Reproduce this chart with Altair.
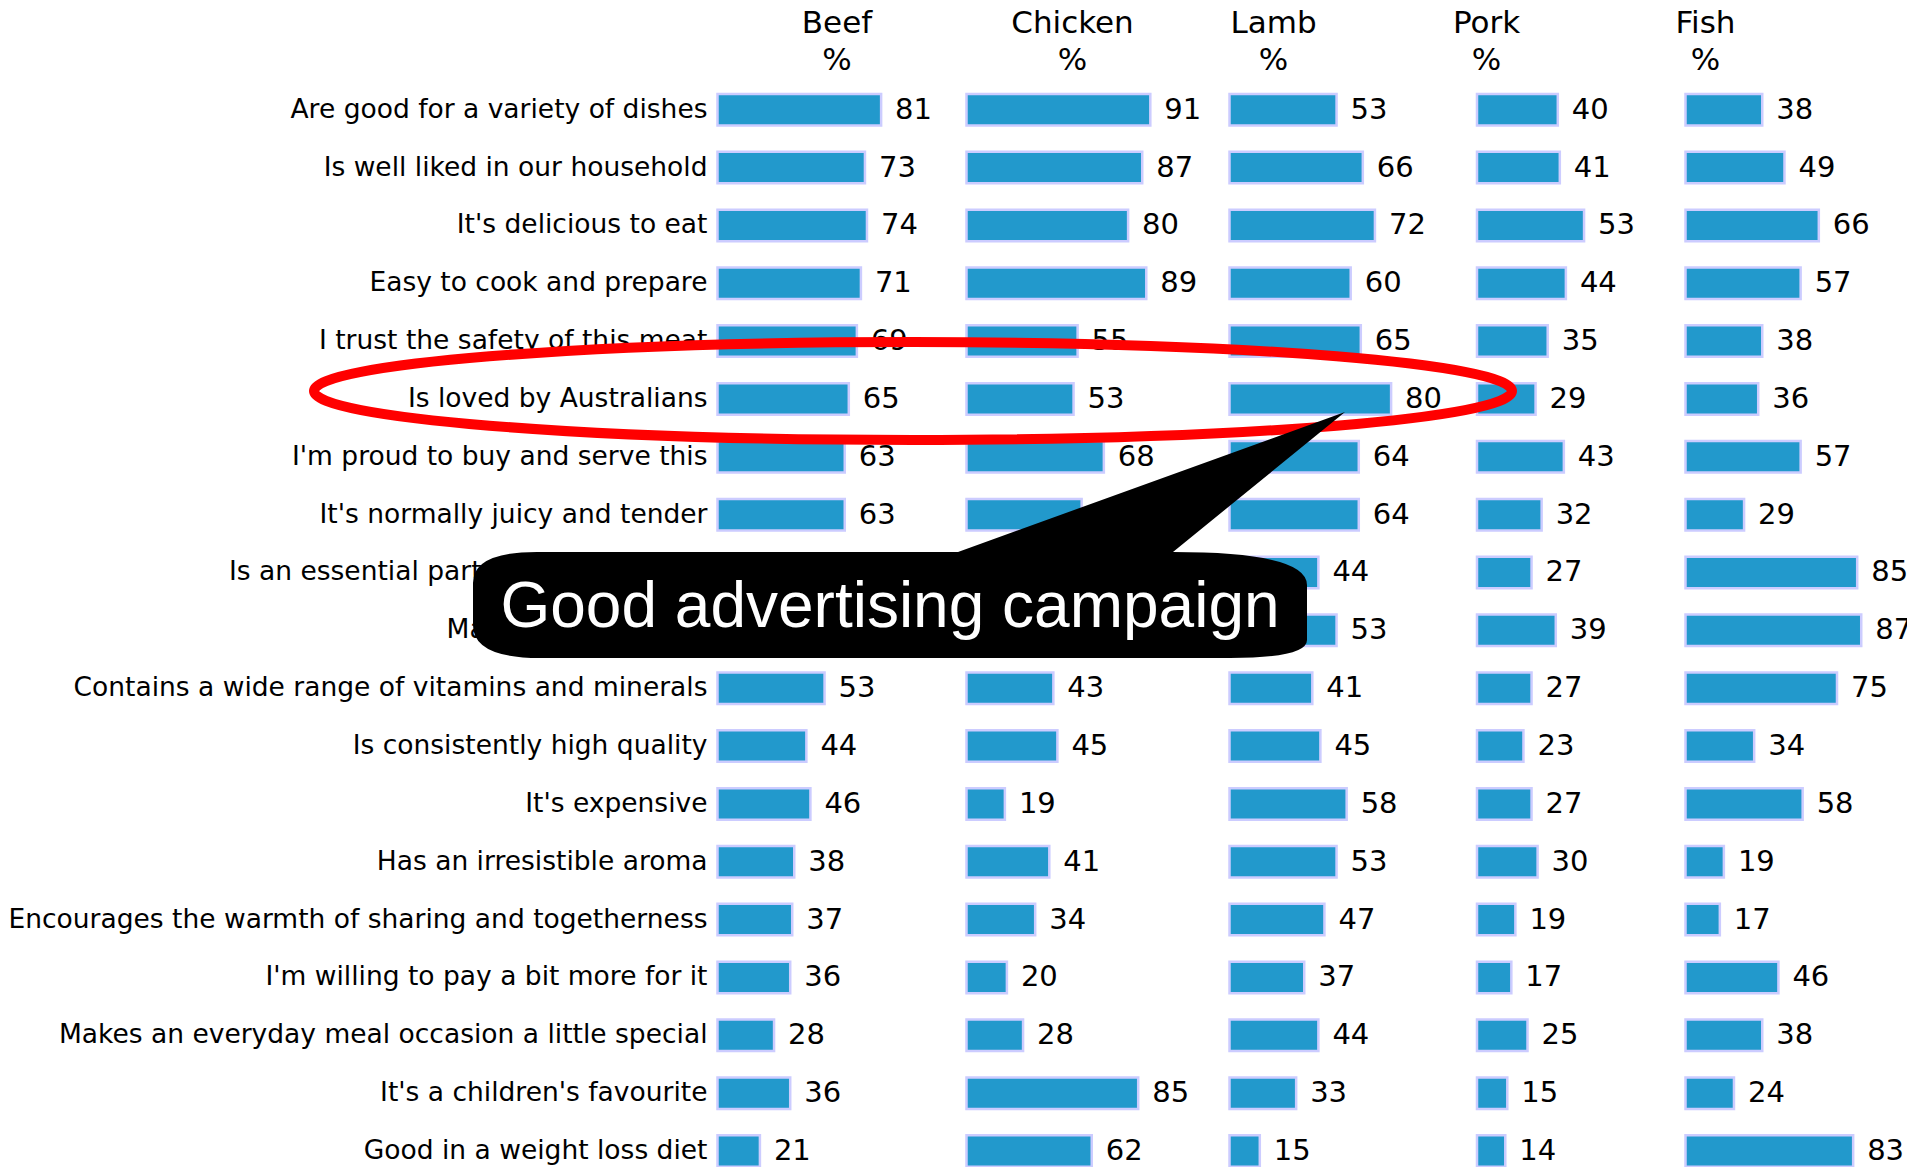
import altair as alt
import pandas as pd

# ---------------- data ----------------
meats = ["Beef", "Chicken", "Lamb", "Pork", "Fish"]
attributes = [
    "Are good for a variety of dishes",
    "Is well liked in our household",
    "It's delicious to eat",
    "Easy to cook and prepare",
    "I trust the safety of this meat",
    "Is loved by Australians",
    "I'm proud to buy and serve this",
    "It's normally juicy and tender",
    "Is an essential part of a healthy diet",
    "Makes a great meal",
    "Contains a wide range of vitamins and minerals",
    "Is consistently high quality",
    "It's expensive",
    "Has an irresistible aroma",
    "Encourages the warmth of sharing and togetherness",
    "I'm willing to pay a bit more for it",
    "Makes an everyday meal occasion a little special",
    "It's a children's favourite",
    "Good in a weight loss diet",
]
beef = [81, 73, 74, 71, 69, 65, 63, 63, 60, 57, 53, 44, 46, 38, 37, 36, 28, 36, 21]
chicken = [91, 87, 80, 89, 55, 53, 68, 57, 40, 66, 43, 45, 19, 41, 34, 20, 28, 85, 62]
lamb = [53, 66, 72, 60, 65, 80, 64, 64, 44, 53, 41, 45, 58, 53, 47, 37, 44, 33, 15]
pork = [40, 41, 53, 44, 35, 29, 43, 32, 27, 39, 27, 23, 27, 30, 19, 17, 25, 15, 14]
fish = [38, 49, 66, 57, 38, 36, 57, 29, 85, 87, 75, 34, 58, 19, 17, 46, 38, 24, 83]
unit_label = "%"
callout_text = "Good advertising campaign"

# ---------------- layout ----------------
PX_PER_UNIT = 2.02
COL_START_PX = {"Beef": 0, "Chicken": 249, "Lamb": 512, "Pork": 759.5, "Fish": 968}
HEADER_CENTER_PX = {"Beef": 119.5, "Chicken": 355, "Lamb": 556, "Pork": 769, "Fish": 988}
PAD_LEFT, PAD_TOP = 709.5, 73
PLOT_W = 1907 - 8 - PAD_LEFT
PLOT_H = 1159 - PAD_TOP
BAR_HALF = 0.2725

series = dict(zip(meats, [beef, chicken, lamb, pork, fish]))
rows = []
for m in meats:
    for i, (a, v) in enumerate(zip(attributes, series[m])):
        x0 = COL_START_PX[m] / PX_PER_UNIT
        rows.append({"meat": m, "attribute": a, "idx": i, "value": v,
                     "x0": x0, "x1": x0 + v,
                     "y0": i - BAR_HALF, "y1": i + BAR_HALF})
df = pd.DataFrame(rows)
label_df = pd.DataFrame({"attribute": attributes, "idx": list(range(len(attributes)))})
header_df = pd.DataFrame({"meat": meats,
                          "hx": [HEADER_CENTER_PX[m] / PX_PER_UNIT for m in meats]})
one = pd.DataFrame({"k": [0]})

xscale = alt.Scale(domain=[0, PLOT_W / PX_PER_UNIT], nice=False, zero=False)
yscale = alt.Scale(domain=[-0.496, -0.496 + PLOT_H / 57.85], reverse=True, nice=False, zero=False)

FONT = "DejaVu Sans"

bars = alt.Chart(df).mark_bar(fill="#2299cc", stroke="#ccccff", strokeWidth=2.5).encode(
    x=alt.X("x0:Q", scale=xscale, axis=None),
    x2="x1:Q",
    y=alt.Y("y0:Q", scale=yscale, axis=None),
    y2="y1:Q",
)

values = alt.Chart(df).mark_text(align="left", baseline="middle", dx=14, fontSize=29,
                                 font=FONT, color="black").encode(
    x=alt.X("x1:Q", scale=xscale, axis=None),
    y=alt.Y("idx:Q", scale=yscale, axis=None),
    text="value:Q",
)

row_labels = alt.Chart(label_df).mark_text(align="right", baseline="middle", fontSize=26.5,
                                           font=FONT, color="black").encode(
    x=alt.value(-10),
    y=alt.Y("idx:Q", scale=yscale, axis=None),
    text="attribute:N",
)

headers = alt.Chart(header_df).mark_text(align="center", baseline="alphabetic", fontSize=31,
                                         font=FONT, color="black").encode(
    x=alt.X("hx:Q", scale=xscale, axis=None),
    y=alt.value(-48),
    text="meat:N",
)
headers_pct = alt.Chart(header_df).mark_text(align="center", baseline="alphabetic", fontSize=31,
                                             font=FONT, color="black").encode(
    x=alt.X("hx:Q", scale=xscale, axis=None),
    y=alt.value(-11),
    text=alt.value(unit_label),
)

ELLIPSE_PATH = "M -599 0 A 599 49 0 1 0 599 0 A 599 49 0 1 0 -599 0 Z"
ellipse = alt.Chart(one).mark_point(shape=ELLIPSE_PATH, size=4, filled=False, color="#ff0000",
                                    strokeWidth=10, opacity=1).encode(
    x=alt.value(195.5), y=alt.value(310)
)

CALLOUT_PATH = ("M 68 -53 L 455 -193 L 283 -53 Q 417 -53 417 -20 L 417 35 Q 417 53 340 53 "
                "L -350 53 Q -417 53 -417 20 L -417 -22 Q -417 -53 -353 -53 Z")
callout = alt.Chart(one).mark_point(shape=CALLOUT_PATH, size=4, filled=True, color="black",
                                    strokeWidth=0, opacity=1).encode(
    x=alt.value(172.5), y=alt.value(524)
)
callout_label = alt.Chart(one).mark_text(font="Liberation Sans", fontSize=64, color="white",
                                         align="center", baseline="alphabetic").encode(
    x=alt.value(172.5), y=alt.value(546), text=alt.value(callout_text)
)

chart = alt.layer(bars, values, row_labels, headers, headers_pct, ellipse, callout,
                  callout_label).properties(
    width=PLOT_W, height=PLOT_H,
    autosize=alt.AutoSizeParams(type="none"),
    padding={"left": PAD_LEFT, "top": PAD_TOP, "right": 0, "bottom": 0},
).configure_view(stroke=None)

chart.save("out.html", embed_options={"renderer": "svg", "actions": False})
